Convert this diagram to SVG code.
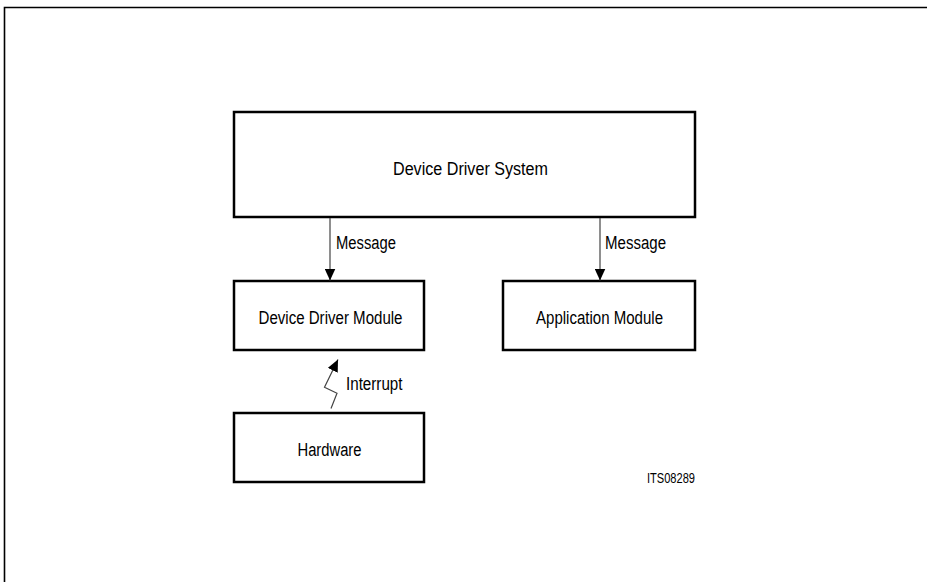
<svg xmlns="http://www.w3.org/2000/svg" width="927" height="582" viewBox="0 0 927 582">
<style>
.box{fill:#fff;stroke:#000;stroke-width:2.5}
.lbl{font-family:"Liberation Sans",Arial,sans-serif;font-size:18px;fill:#000}
.con{stroke:#444;stroke-width:1.2;fill:none}
</style>
<defs>
<marker id="ah" markerWidth="12" markerHeight="11" refX="12" refY="5.5" orient="auto" markerUnits="userSpaceOnUse">
<path d="M0,0 L12,5.5 L0,11 Z" fill="#000"/>
</marker>
</defs>
<rect width="927" height="582" fill="#fff"/>
<g id="frame">
<path d="M4.5,582 V7.5 H927" fill="none" stroke="#000" stroke-width="1.6"/>
</g>
<g id="dds">
<rect class="box" x="234" y="112" width="461" height="105"/>
<text class="lbl" x="393" y="175" textLength="155" lengthAdjust="spacingAndGlyphs">Device Driver System</text>
</g>
<g id="ddm">
<rect class="box" x="234" y="281" width="190" height="69"/>
<text class="lbl" x="258.5" y="324" textLength="144" lengthAdjust="spacingAndGlyphs">Device Driver Module</text>
</g>
<g id="app">
<rect class="box" x="503" y="281" width="192" height="69"/>
<text class="lbl" x="536" y="324" textLength="127" lengthAdjust="spacingAndGlyphs">Application Module</text>
</g>
<g id="hw">
<rect class="box" x="234" y="413" width="190" height="69"/>
<text class="lbl" x="297.5" y="456" textLength="64" lengthAdjust="spacingAndGlyphs">Hardware</text>
</g>
<g id="connectors">
<line class="con" x1="330" y1="218" x2="330" y2="280.5" marker-end="url(#ah)"/>
<line class="con" x1="600" y1="218" x2="600" y2="280.5" marker-end="url(#ah)"/>
<polyline class="con" points="331,408.5 337,393.3 324.5,387.3 338,359.5" marker-end="url(#ah)"/>
<text class="lbl" x="336" y="249" textLength="60" lengthAdjust="spacingAndGlyphs">Message</text>
<text class="lbl" x="605" y="249" textLength="61" lengthAdjust="spacingAndGlyphs">Message</text>
<text class="lbl" x="346" y="390" textLength="56.5" lengthAdjust="spacingAndGlyphs">Interrupt</text>
</g>
<text class="lbl" x="647" y="482.5" style="font-size:14px" textLength="48" lengthAdjust="spacingAndGlyphs">ITS08289</text>
</svg>
